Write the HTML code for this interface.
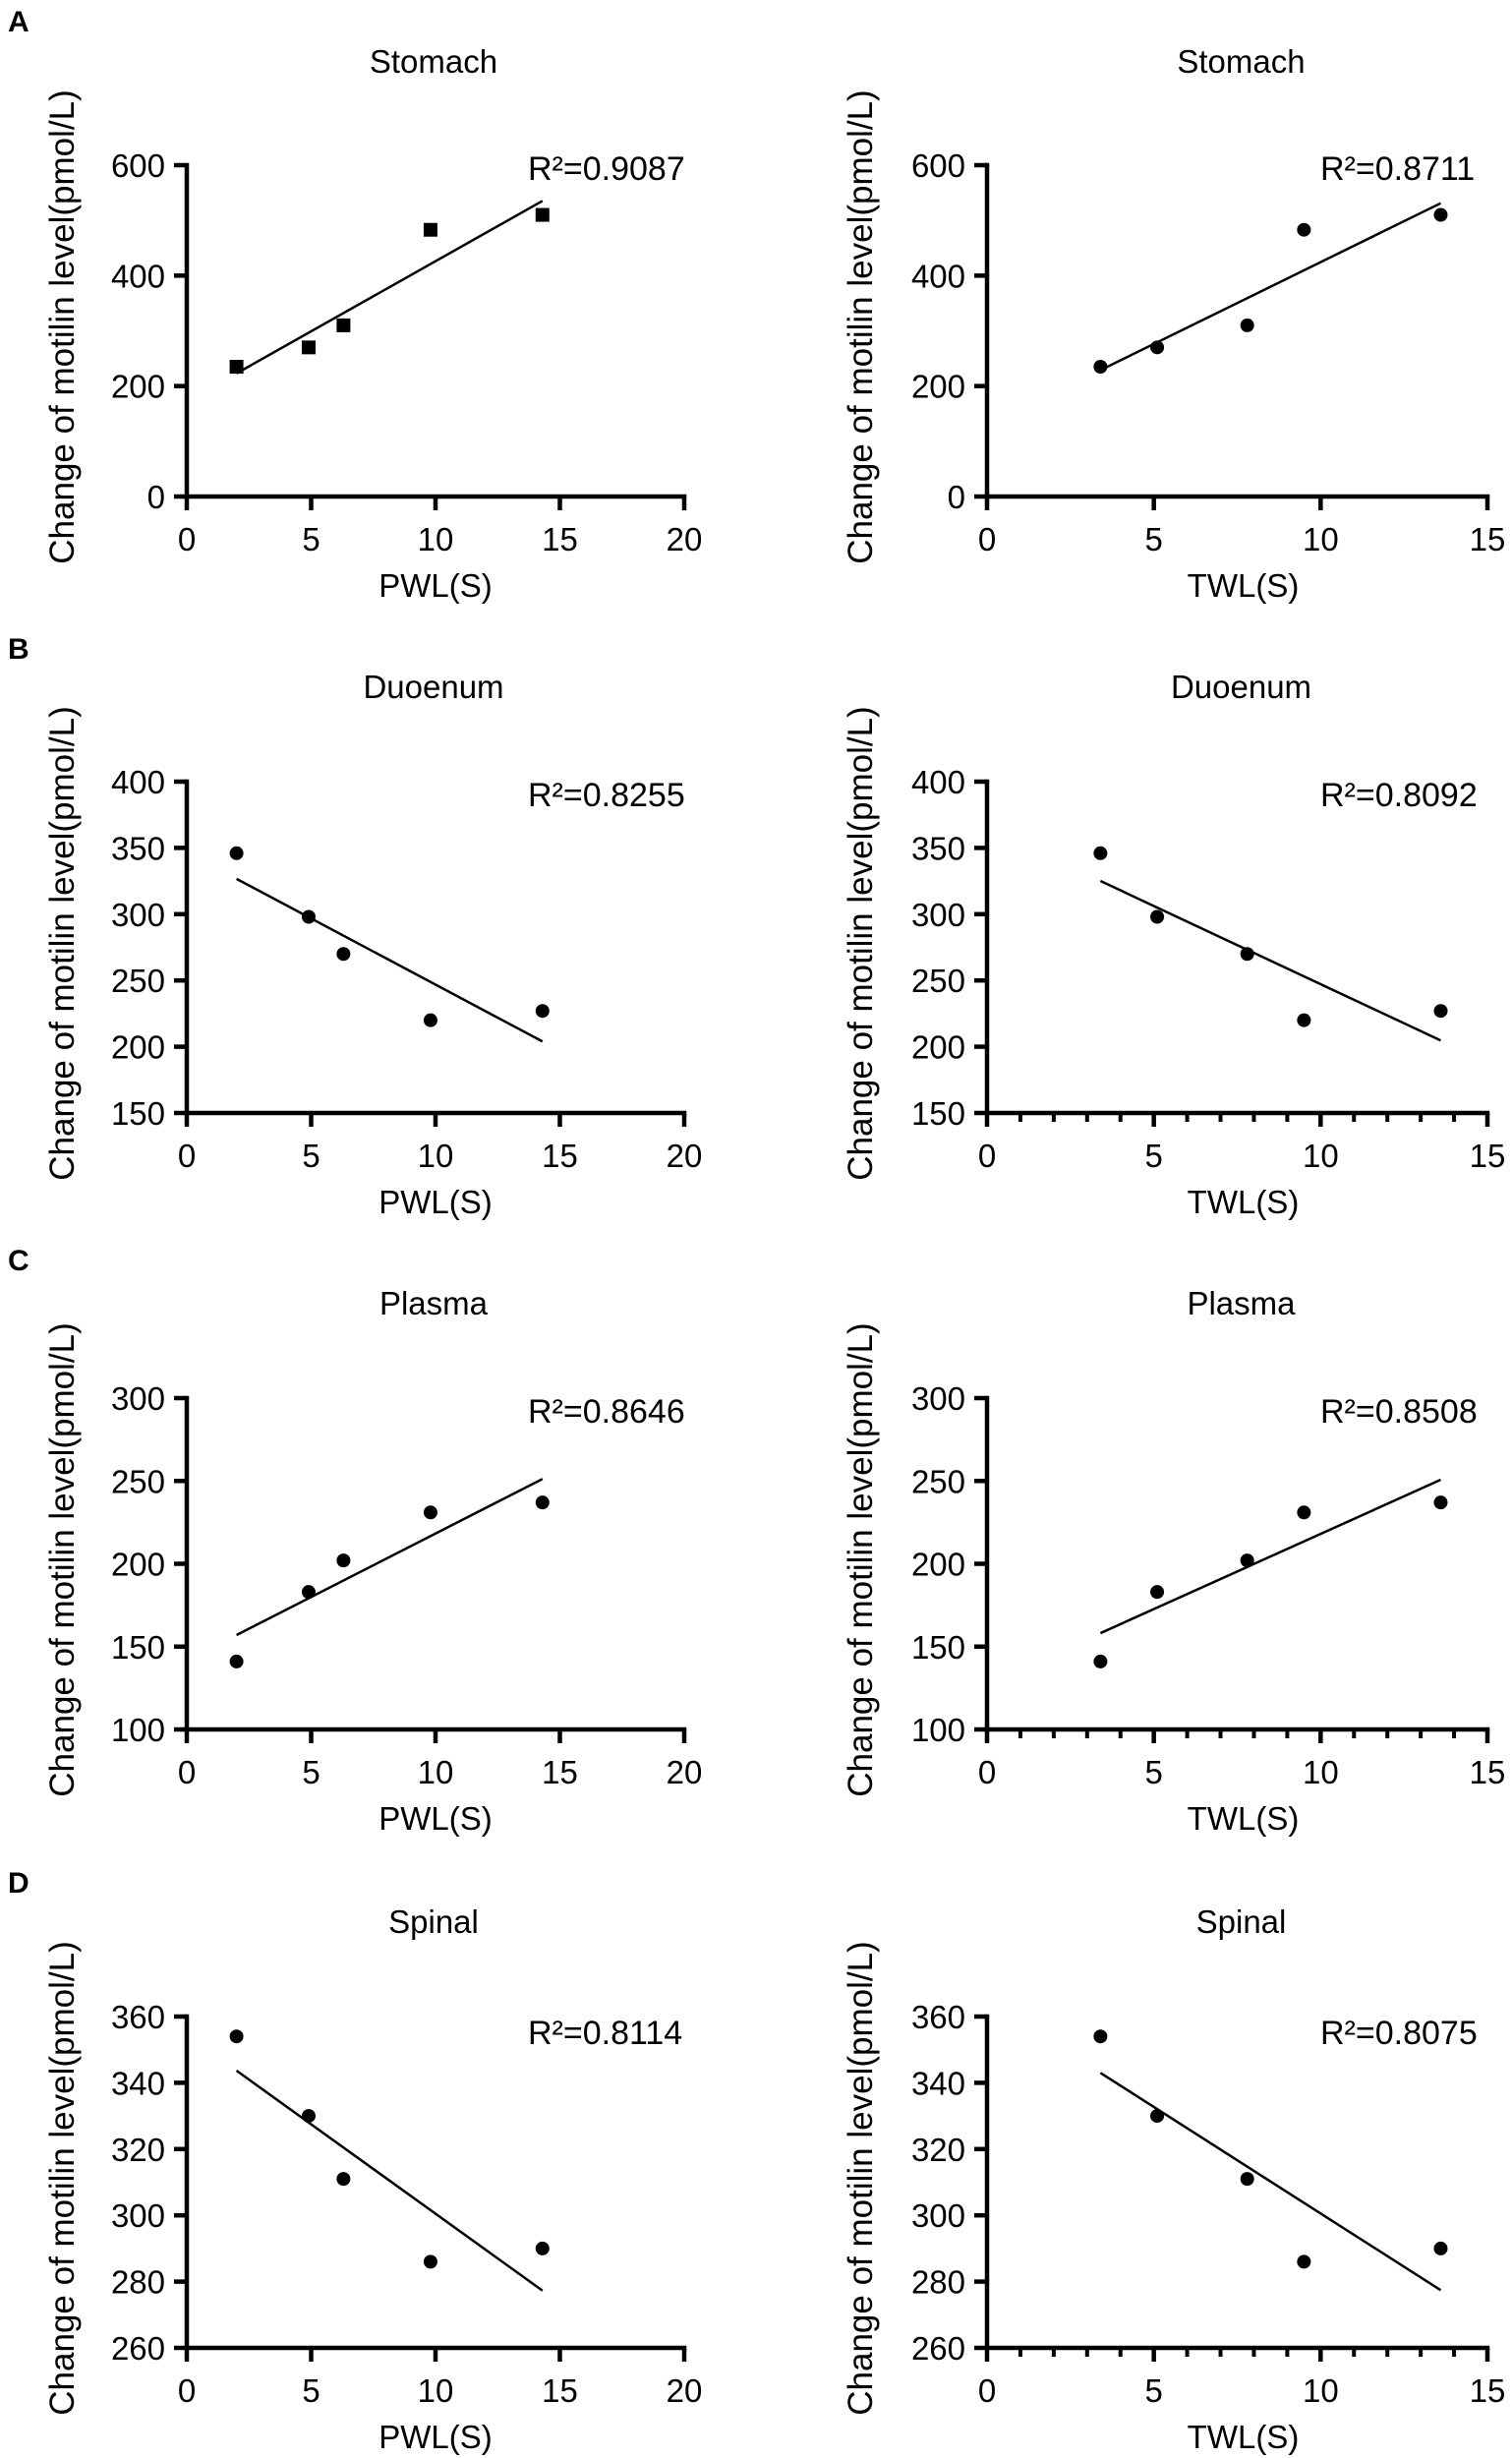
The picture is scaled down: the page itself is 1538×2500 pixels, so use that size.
<!DOCTYPE html>
<html><head><meta charset="utf-8">
<style>
html,body{margin:0;padding:0;background:#fff;}
svg{display:block;font-family:"Liberation Sans",Arial,sans-serif;}
</style></head>
<body>
<svg id="fig" width="1538" height="2500" viewBox="0 0 1538 2500"></svg>
<script>
// ---- data ----
const pwlX = [2.0, 4.9, 6.3, 9.8, 14.3];
const twlX = [3.4, 5.1, 7.8, 9.5, 13.6];
const stomachY = [235, 270, 310, 483, 510];
const duoY = [346, 298, 270, 220, 227];
const plasmaY = [141, 183, 202, 231, 237];
const spinalY = [354, 330, 311, 286, 290];
const rowTitles = ["Stomach", "Duoenum", "Plasma", "Spinal"];
const rowLetters = ["A", "B", "C", "D"];
const r2Left = ["R²=0.9087", "R²=0.8255", "R²=0.8646", "R²=0.8114"];
const r2Right = ["R²=0.8711", "R²=0.8092", "R²=0.8508", "R²=0.8075"];
const yTicks = [[0,200,400,600],[150,200,250,300,350,400],[100,150,200,250,300],[260,280,300,320,340,360]];
const pwlTicks = [0,5,10,15,20];
const twlTicks = [0,5,10,15];
const rowY = [stomachY, duoY, plasmaY, spinalY];

// ---- layout ----
const NS = "http://www.w3.org/2000/svg";
const svg = document.getElementById("fig");
const tops = [168, 795, 1422, 2051];
const H = 337;
const letterY = [32, 670, 1292, 1925];
const r2Off = [15, 25, 25, 28];
const titleOff = [94, 85, 85, 85];
function mk(tag, attrs, parent){ const e=document.createElementNS(NS,tag); for(const k in attrs) e.setAttribute(k,attrs[k]); (parent||svg).appendChild(e); return e; }
function txt(s, attrs, parent){ const e=mk("text",attrs,parent); e.textContent=s; return e; }

function panel(row, side){
  const left = side===0;
  const x0 = left?190:1004, x1 = left?696:1513;
  const xmax = left?20:15;
  const xs = left?pwlX:twlX;
  const xt = left?pwlTicks:twlTicks;
  const ys = rowY[row];
  const yt = yTicks[row];
  const ymin = yt[0], ymax = yt[yt.length-1];
  const top = tops[row], bot = top+H;
  const sx = v => x0 + (v/xmax)*(x1-x0);
  const sy = v => bot - (v-ymin)/(ymax-ymin)*H;
  const g = mk("g",{});
  
  
  const cx = (x0+x1)/2 + (left?-2:4);
  const t = txt(rowTitles[row],{x:cx,y:top-titleOff[row],"font-size":33,"text-anchor":"middle"},g);
  
  
  const ax = mk("path",{d:`M${x0} ${top}V${bot}H${x1}`,stroke:"#000","stroke-width":4.5,fill:"none","stroke-linecap":"square"},g);
  
  
  yt.forEach(v=>{
    mk("line",{x1:x0-13,x2:x0,y1:sy(v),y2:sy(v),stroke:"#000","stroke-width":4.5},g);
    const l=txt(String(v),{x:x0-22,y:sy(v)+12,"font-size":33,"text-anchor":"end"},g);
    
    
  });
  const minor = !left && row>0;
  if(minor){ for(let i=1;i<xmax;i++){ if(i%5) mk("line",{x1:sx(i),x2:sx(i),y1:bot,y2:bot+9,stroke:"#000","stroke-width":4},g);} }
  xt.forEach(v=>{
    mk("line",{x1:sx(v),x2:sx(v),y1:bot,y2:bot+14,stroke:"#000","stroke-width":4.5},g);
    const l=txt(String(v),{x:sx(v),y:bot+55,"font-size":33,"text-anchor":"middle"},g);
    
    
  });
  const xl = txt(left?"PWL(S)":"TWL(S)",{x:cx+2,y:bot+102,"font-size":33,"text-anchor":"middle"},g);
  
  
  const ylx = left?75:887, yly = top+H/2-4;
  const yl = txt("Change of motilin level(pmol/L)",{x:ylx,y:yly,"font-size":35,"text-anchor":"middle",transform:`rotate(-90 ${ylx} ${yly})`},g);
  
  
  const r2 = txt(left?r2Left[row]:r2Right[row],{x:left?537:1343,y:top+r2Off[row],"font-size":34},g);
  
  
  const n=xs.length; let mx=0,my=0; for(let i=0;i<n;i++){mx+=xs[i];my+=ys[i];} mx/=n; my/=n;
  let sxy=0,sxx=0; for(let i=0;i<n;i++){sxy+=(xs[i]-mx)*(ys[i]-my); sxx+=(xs[i]-mx)**2;}
  const b=sxy/sxx, a=my-b*mx;
  const xa=Math.min(...xs), xb=Math.max(...xs);
  const ln=mk("line",{x1:sx(xa),y1:sy(a+b*xa),x2:sx(xb),y2:sy(a+b*xb),stroke:"#000","stroke-width":2.5},g);
  
  
  for(let i=0;i<n;i++){
    let p;
    if(row===0 && left) p=mk("rect",{x:sx(xs[i])-7,y:sy(ys[i])-7,width:14,height:14,fill:"#000"},g);
    else p=mk("circle",{cx:sx(xs[i]),cy:sy(ys[i]),r:7,fill:"#000"},g);
    
    
  }
}
for(let r=0;r<4;r++){
  const L=txt(rowLetters[r],{x:8,y:letterY[r],"font-size":30,"font-weight":"bold"});
  
  
  panel(r,0); panel(r,1);
}
</script>
</body></html>
